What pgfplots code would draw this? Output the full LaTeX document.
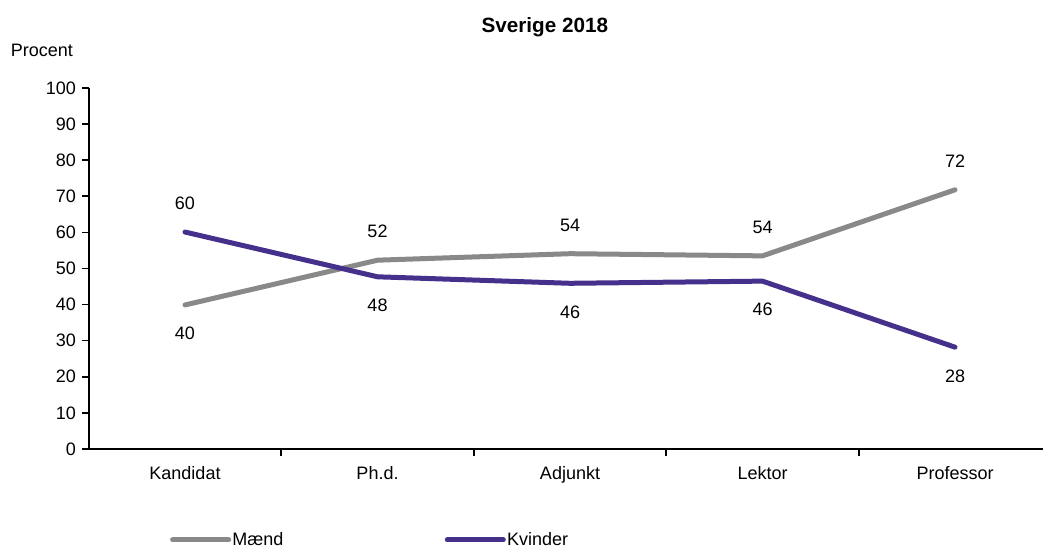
\documentclass[border=0pt]{standalone}
\usepackage{pgfplots}
\pgfplotsset{compat=1.18}
\usepackage{fontspec}
\setmainfont{Liberation Sans}
\definecolor{mgray}{RGB}{137,137,137}
\definecolor{kpurple}{RGB}{69,48,140}
\begin{document}
\fontsize{13.5pt}{16pt}\selectfont
\begin{tikzpicture}
\begin{axis}[
  scale only axis,
  width=715.69pt, height=270.75pt,
  xmin=-0.5, xmax=4.457,
  ymin=0, ymax=100,
  axis x line*=bottom, axis y line*=left,
  axis line style={black, line width=1.2pt, -},
  tick align=outside,
  ytick={0,10,...,100},
  ytick pos=left, xtick pos=bottom,
  major tick length=5pt,
  tick style={black, line width=1.2pt},
  xtick={0.5,1.5,2.5,3.5},
  xticklabels={},
  extra x ticks={0,1,2,3,4},
  extra x tick labels={Kandidat,Ph.d.,Adjunkt,Lektor,Professor},
  extra x tick style={major tick length=0pt, tick label style={yshift=-8.5pt}},
  /pgf/number format/assume math mode=true,
  clip=false,
  title={\fontsize{15.5pt}{18pt}\selectfont\bfseries Sverige 2018},
  title style={at={(axis description cs:0.478,1.147)}, anchor=center, yshift=0pt},
  ylabel={Procent},
  ylabel style={rotate=-90, at={(axis description cs:-0.049,1.105)}, anchor=center},
  legend columns=2,
  legend style={at={(axis description cs:0.085,-0.252)}, anchor=west, draw=none, inner sep=0pt,
    nodes={inner sep=1pt, anchor=west},
    /tikz/every odd column/.append style={column sep=0pt},
    /tikz/every even column/.append style={column sep=120pt}},
  legend image code/.code={\draw[#1, line cap=round] (0pt,0pt) -- (42pt,0pt);},
]
\addplot[mgray, line width=3.75pt, line cap=round, line join=round,
  nodes near coords, point meta=explicit symbolic,
  visualization depends on={value \thisrow{off} \as \off},
  every node near coord/.append style={anchor=center, yshift=\off, text=black}]
  table[x=x, y=y, meta=lab] {
x y lab off
0 39.9 40 -21.5pt
1 52.3 52 21.5pt
2 54.1 54 21.5pt
3 53.5 54 21.5pt
4 71.8 72 21.5pt
};
\addlegendentry{Mænd}
\addplot[kpurple, line width=3.75pt, line cap=round, line join=round,
  nodes near coords, point meta=explicit symbolic,
  visualization depends on={value \thisrow{off} \as \off},
  every node near coord/.append style={anchor=center, yshift=\off, text=black}]
  table[x=x, y=y, meta=lab] {
x y lab off
0 60.1 60 21.5pt
1 47.7 48 -21.5pt
2 45.9 46 -21.5pt
3 46.5 46 -21.5pt
4 28.2 28 -21.5pt
};
\addlegendentry{Kvinder}
\end{axis}
\pgfresetboundingbox
\path (-66.56pt,-75pt) rectangle (715.69pt,336.75pt);
\end{tikzpicture}
\end{document}
